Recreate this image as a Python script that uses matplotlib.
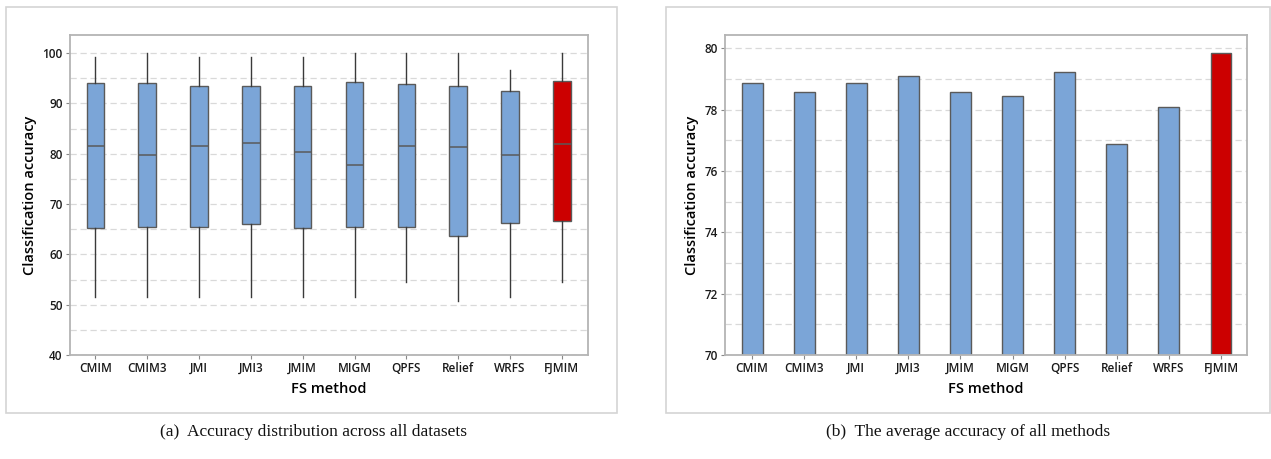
import matplotlib
matplotlib.use("Agg")
import matplotlib.pyplot as plt
from matplotlib.patches import Rectangle
import numpy as np

methods = ["CMIM", "CMIM3", "JMI", "JMI3", "JMIM", "MIGM", "QPFS", "Relief", "WRFS", "FJMIM"]
whisker_low = [51.6, 51.6, 51.6, 51.6, 51.6, 51.6, 54.6, 50.8, 51.6, 54.6]
q1 = [65.2, 65.4, 65.4, 66.0, 65.2, 65.4, 65.4, 63.7, 66.3, 66.7]
median = [81.6, 79.8, 81.6, 82.1, 80.4, 77.7, 81.6, 81.4, 79.8, 81.9]
q3 = [94.05, 94.05, 93.5, 93.5, 93.5, 94.25, 93.85, 93.5, 92.4, 94.5]
whisker_high = [99.2, 100.0, 99.2, 99.2, 99.2, 100.0, 100.0, 100.0, 96.7, 100.0]
mean_acc = [78.85, 78.58, 78.85, 79.10, 78.58, 78.44, 79.21, 76.89, 78.07, 79.84]

BLUE = "#7BA5D7"
RED = "#CC0000"
EDGE = "#5a5a5a"
SPINE = "#b4b4b4"
GRID = "#d9d9d9"

W, H = 1271, 459
fig = plt.figure(figsize=(W / 100, H / 100), dpi=100)

def rect_axes(x0, y0, x1, y1):
    return fig.add_axes([x0 / W, 1 - y1 / H, (x1 - x0) / W, (y1 - y0) / H])

# panel frames
for (x0, y0, x1, y1) in [(6, 7, 617, 413), (666, 7, 1270, 413)]:
    fig.patches.append(Rectangle((x0 / W, 1 - y1 / H), (x1 - x0) / W, (y1 - y0) / H,
                                 transform=fig.transFigure, fill=False,
                                 edgecolor="#d4d4d4", linewidth=1.2))

tick_font = dict(family=["Open Sans", "DejaVu Sans"], fontsize=8.5, fontweight="semibold")
label_font = dict(family=["Open Sans", "DejaVu Sans"], fontsize=10.5, fontweight="semibold")

def style(ax):
    for s in ax.spines.values():
        s.set_color(SPINE)
        s.set_linewidth(1.3)
    ax.tick_params(axis="both", which="major", length=3, color="#888888", width=0.8, pad=2)
    ax.tick_params(axis="both", which="minor", length=0)
    ax.set_axisbelow(True)
    ax.grid(axis="y", which="both", linestyle=(0, (5, 3)), color=GRID, linewidth=0.9)
    for lab in ax.get_xticklabels() + ax.get_yticklabels():
        lab.set_fontfamily(tick_font["family"])
        lab.set_fontsize(tick_font["fontsize"])
        lab.set_fontweight(tick_font["fontweight"])
        lab.set_color("#1a1a1a")

# Left: boxplot
ax1 = rect_axes(69.5, 35, 587.7, 355)
stats = []
for i, m in enumerate(methods):
    stats.append(dict(label=m, whislo=whisker_low[i], q1=q1[i], med=median[i],
                      q3=q3[i], whishi=whisker_high[i], fliers=[]))
pos = np.arange(len(methods))
bp = ax1.bxp(stats, positions=pos, widths=0.34, patch_artist=True, showcaps=False,
             boxprops=dict(edgecolor=EDGE, linewidth=1.0),
             medianprops=dict(color=EDGE, linewidth=1.1),
             whiskerprops=dict(color="#3a3a3a", linewidth=1.0))
for i, b in enumerate(bp["boxes"]):
    b.set_facecolor(RED if methods[i] == "FJMIM" else BLUE)
ax1.set_xlim(-0.5, 9.5)
ax1.set_ylim(40, 103.6)
ax1.set_yticks(np.arange(40, 101, 10))
ax1.set_yticks(np.arange(45, 101, 5), minor=True)
ax1.set_xticks(pos)
ax1.set_xticklabels(methods)
style(ax1)
ax1.set_ylabel("Classification accuracy", labelpad=4, **label_font)
ax1.set_xlabel("FS method", labelpad=5, **label_font)

# Right: bar chart
ax2 = rect_axes(724.5, 35, 1247, 355)
colors = [RED if m == "FJMIM" else BLUE for m in methods]
ax2.bar(pos, mean_acc, width=0.4, color=colors, edgecolor=EDGE, linewidth=1.0, bottom=0)
ax2.set_xlim(-0.53, 9.5)
ax2.set_ylim(70, 80.43)
ax2.set_yticks(np.arange(70, 81, 2))
ax2.set_yticks(np.arange(71, 81, 1), minor=True)
ax2.set_xticks(pos)
ax2.set_xticklabels(methods)
style(ax2)
ax2.set_ylabel("Classification accuracy", labelpad=4, **label_font)
ax2.set_xlabel("FS method", labelpad=5, **label_font)

cap_font = dict(family=["Liberation Serif", "DejaVu Serif"], fontsize=12.5, color="#111111",
                ha="center", va="center")
fig.text(313 / W, 1 - 432 / H, "(a)  Accuracy distribution across all datasets", **cap_font)
fig.text(968 / W, 1 - 432 / H, "(b)  The average accuracy of all methods", **cap_font)

fig.savefig("out.png", dpi=100, facecolor="white")
